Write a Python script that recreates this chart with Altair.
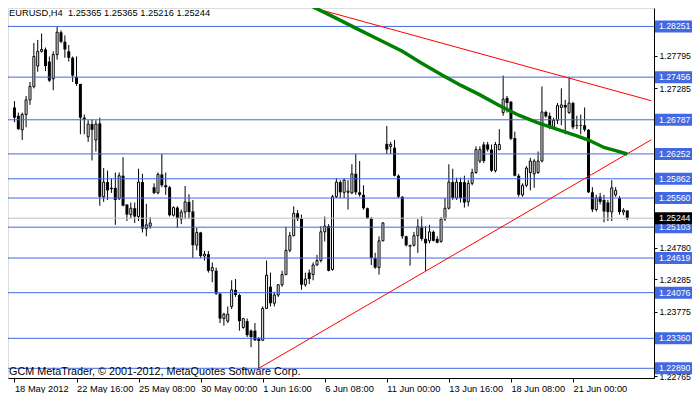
import altair as alt
import pandas as pd

# ---------------- data (EURUSD H4) ----------------
OPEN = [1.2698, 1.2685, 1.2663, 1.2687, 1.2710, 1.2731, 1.2763, 1.2786, 1.2789, 1.2770,
        1.2743, 1.2781, 1.2816, 1.2801, 1.2786, 1.2776, 1.2746, 1.2735, 1.2682, 1.2652,
        1.2672, 1.2647, 1.2673, 1.2558, 1.2581, 1.2572, 1.2572, 1.2555, 1.2591, 1.2546,
        1.2530, 1.2540, 1.2527, 1.2581, 1.2508, 1.2512, 1.2573, 1.2564, 1.2593, 1.2576,
        1.2573, 1.2529, 1.2541, 1.2523, 1.2534, 1.2550, 1.2535, 1.2482, 1.2502, 1.2465,
        1.2468, 1.2442, 1.2442, 1.2406, 1.2367, 1.2363, 1.2386, 1.2412, 1.2404, 1.2353,
        1.2363, 1.2348, 1.2348, 1.2336, 1.2333, 1.2383, 1.2417, 1.2391, 1.2404, 1.2420,
        1.2436, 1.2474, 1.2497, 1.2532, 1.2524, 1.2420, 1.2439, 1.2436, 1.2451, 1.2458,
        1.2503, 1.2512, 1.2444, 1.2558, 1.2581, 1.2565, 1.2565, 1.2564, 1.2594, 1.2565,
        1.2561, 1.2540, 1.2524, 1.2462, 1.2447, 1.2489, 1.2641, 1.2637, 1.2635, 1.2591,
        1.2558, 1.2496, 1.2482, 1.2482, 1.2497, 1.2511, 1.2492, 1.2489, 1.2503, 1.2492,
        1.2488, 1.2523, 1.2540, 1.2581, 1.2556, 1.2581, 1.2581, 1.2550, 1.2579, 1.2596,
        1.2614, 1.2640, 1.2640, 1.2632, 1.2599, 1.2632, 1.2690, 1.2713, 1.2707, 1.2650,
        1.2591, 1.2561, 1.2576, 1.2596, 1.2594, 1.2596, 1.2614, 1.2691, 1.2685, 1.2667,
        1.2678, 1.2698, 1.2702, 1.2690, 1.2705, 1.2670, 1.2670, 1.2670, 1.2663, 1.2565,
        1.2538, 1.2558, 1.2553, 1.2549, 1.2534, 1.2561, 1.2556, 1.2534, 1.25365]
HIGH = [1.2708, 1.2690, 1.2690, 1.2716, 1.2738, 1.2799, 1.2804, 1.2814, 1.2792, 1.2778,
        1.2786, 1.28251, 1.2819, 1.2811, 1.2796, 1.2778, 1.2778, 1.2735, 1.2687, 1.2678,
        1.2679, 1.2678, 1.2682, 1.2603, 1.2599, 1.2587, 1.2596, 1.2596, 1.2620, 1.2546,
        1.2549, 1.2549, 1.2602, 1.2594, 1.2547, 1.2526, 1.2579, 1.2596, 1.2625, 1.2596,
        1.2575, 1.2543, 1.2543, 1.2538, 1.2575, 1.2562, 1.2553, 1.2509, 1.2503, 1.2473,
        1.2473, 1.2455, 1.2447, 1.2407, 1.2376, 1.2386, 1.2427, 1.2429, 1.2406, 1.2368,
        1.2367, 1.2350, 1.2360, 1.2338, 1.2386, 1.2458, 1.2439, 1.2409, 1.2421, 1.2442,
        1.2511, 1.2503, 1.2543, 1.2537, 1.2530, 1.2439, 1.2444, 1.2455, 1.2467, 1.2512,
        1.2527, 1.2515, 1.2561, 1.2587, 1.2584, 1.2587, 1.2584, 1.2609, 1.2625, 1.2614,
        1.2576, 1.2541, 1.2526, 1.2470, 1.2496, 1.2518, 1.2669, 1.2644, 1.2647, 1.2593,
        1.2559, 1.2497, 1.2483, 1.2503, 1.2523, 1.2527, 1.2512, 1.2514, 1.2505, 1.2496,
        1.2526, 1.2556, 1.2609, 1.2602, 1.2588, 1.2588, 1.2591, 1.2584, 1.2602, 1.2637,
        1.2637, 1.2644, 1.2644, 1.2640, 1.2644, 1.2664, 1.2748, 1.2716, 1.2708, 1.2660,
        1.2594, 1.2579, 1.2606, 1.2619, 1.2617, 1.2629, 1.2731, 1.2693, 1.2690, 1.2682,
        1.2705, 1.2728, 1.2710, 1.2745, 1.2707, 1.2685, 1.2687, 1.2698, 1.2664, 1.2573,
        1.2561, 1.2564, 1.2561, 1.2553, 1.2584, 1.2573, 1.2559, 1.2540, 1.25365]
LOW = [1.2675, 1.2663, 1.2647, 1.2667, 1.2702, 1.2728, 1.2754, 1.2784, 1.2755, 1.2738,
       1.2725, 1.2773, 1.2799, 1.2776, 1.2770, 1.2738, 1.2732, 1.2656, 1.2656, 1.2644,
       1.2615, 1.2629, 1.2544, 1.2550, 1.2553, 1.2564, 1.2514, 1.2553, 1.2543, 1.2520,
       1.2524, 1.2517, 1.2520, 1.2502, 1.2496, 1.2508, 1.2562, 1.2562, 1.2573, 1.2561,
       1.2527, 1.2527, 1.2509, 1.2515, 1.2523, 1.2523, 1.2462, 1.2474, 1.2462, 1.2458,
       1.2439, 1.2424, 1.2404, 1.2360, 1.2356, 1.2360, 1.2382, 1.2401, 1.2348, 1.2351,
       1.2338, 1.2322, 1.2332, 1.2289, 1.2332, 1.2382, 1.2386, 1.2386, 1.2401, 1.2417,
       1.2435, 1.2471, 1.2496, 1.2520, 1.2412, 1.2417, 1.2421, 1.2427, 1.2450, 1.2455,
       1.2488, 1.2441, 1.2442, 1.2556, 1.2556, 1.2556, 1.2538, 1.2562, 1.2561, 1.2558,
       1.2538, 1.2523, 1.2451, 1.2445, 1.2436, 1.2488, 1.2625, 1.2625, 1.2590, 1.2556,
       1.2492, 1.2480, 1.2450, 1.2480, 1.2470, 1.2489, 1.2442, 1.2485, 1.2488, 1.2485,
       1.2486, 1.2520, 1.2538, 1.2553, 1.2553, 1.2549, 1.2541, 1.2543, 1.2576, 1.2594,
       1.2611, 1.2611, 1.2629, 1.2597, 1.2596, 1.2631, 1.2685, 1.2690, 1.2647, 1.2590,
       1.2558, 1.2558, 1.2573, 1.2568, 1.2572, 1.2594, 1.2612, 1.2682, 1.2664, 1.2664,
       1.2672, 1.2670, 1.2656, 1.2688, 1.2664, 1.2664, 1.2656, 1.2660, 1.2564, 1.2534,
       1.2535, 1.2546, 1.2518, 1.2520, 1.2520, 1.2558, 1.2530, 1.2529, 1.25216]
CLOSE = [1.2682, 1.2664, 1.2687, 1.2710, 1.2731, 1.2778, 1.2786, 1.2789, 1.2763, 1.2740,
         1.2781, 1.2816, 1.2801, 1.2789, 1.2776, 1.2748, 1.2735, 1.2682, 1.2679, 1.2672,
         1.2663, 1.2672, 1.2558, 1.2581, 1.2568, 1.2570, 1.2553, 1.2591, 1.2544, 1.2530,
         1.2540, 1.2527, 1.2581, 1.2508, 1.2514, 1.2517, 1.2564, 1.2593, 1.2576, 1.2573,
         1.2529, 1.2541, 1.2524, 1.2534, 1.2550, 1.2534, 1.2482, 1.2502, 1.2465, 1.2468,
         1.2442, 1.2447, 1.2406, 1.2367, 1.2374, 1.2374, 1.2412, 1.2404, 1.2363, 1.2367,
         1.2341, 1.2338, 1.2333, 1.2332, 1.2383, 1.2435, 1.2391, 1.2404, 1.2420, 1.2436,
         1.2474, 1.2497, 1.2532, 1.2523, 1.2420, 1.2429, 1.2429, 1.2451, 1.2458, 1.2503,
         1.2512, 1.2442, 1.2558, 1.2581, 1.2565, 1.2584, 1.2567, 1.2594, 1.2565, 1.2561,
         1.2540, 1.2524, 1.2462, 1.2447, 1.2489, 1.2517, 1.2632, 1.2640, 1.2591, 1.2558,
         1.2496, 1.2482, 1.2480, 1.2497, 1.2511, 1.2492, 1.2485, 1.2503, 1.2489, 1.2486,
         1.2523, 1.2540, 1.2581, 1.2556, 1.2581, 1.2556, 1.2549, 1.2579, 1.2596, 1.2632,
         1.2632, 1.2614, 1.2632, 1.2599, 1.2640, 1.2640, 1.2711, 1.2705, 1.2649, 1.2591,
         1.2561, 1.2576, 1.2603, 1.2614, 1.2614, 1.2614, 1.2691, 1.2684, 1.2667, 1.2678,
         1.2701, 1.2702, 1.2698, 1.2705, 1.2667, 1.2669, 1.2669, 1.2663, 1.2565, 1.2538,
         1.2556, 1.2550, 1.2535, 1.2534, 1.2572, 1.2568, 1.2534, 1.2537, 1.25244]

LEVELS = [1.28251, 1.27456, 1.26787, 1.26252, 1.25862, 1.25560,
          1.25103, 1.24619, 1.24076, 1.23360, 1.22890]
BID = 1.25244
PRICE_TICKS = [1.27795, 1.27285, 1.24780, 1.24285, 1.23775, 1.22765]
TIME_TICK_BARS = [0, 16, 32, 48, 64, 80, 96, 112, 128, 144]
TIME_TICK_LABELS = ["18 May 2012", "22 May 16:00", "25 May 08:00", "30 May 00:00",
                    "1 Jun 16:00", "6 Jun 08:00", "11 Jun 00:00", "13 Jun 16:00",
                    "18 Jun 08:00", "21 Jun 00:00"]
MA_BARS = [77, 82, 88, 93, 100, 105, 110, 115, 120, 125, 130, 135, 140, 145, 148, 152, 155, 158]
MA_VALUES = [1.28557, 1.28408, 1.28225, 1.28074, 1.27861, 1.27674, 1.27497, 1.27330,
             1.27178, 1.27011, 1.26859, 1.26737, 1.26637, 1.26535, 1.26470, 1.26353,
             1.26303, 1.26251]
UPPER_TREND_BARS = [70, 164.2]
UPPER_TREND_PRICES = [1.28661, 1.27086]
LOWER_TREND_BARS = [63, 164.2]
LOWER_TREND_PRICES = [1.22890, 1.26474]
SYMBOL = "EURUSD,H4"
COPYRIGHT = "GCM MetaTrader, \u00a9 2001-2012, MetaQuotes Software Corp."

# ---------------- layout / style ----------------
W, H = 646, 370
FONT = "Liberation Sans"
FS = 9.3
LFS = 8.7
BLUE = "#4169E1"
xs = alt.Scale(domain=[-0.375, 163.6], nice=False, zero=False)
ys = alt.Scale(domain=[1.22738, 1.28540], nice=False, zero=False)

df = pd.DataFrame({"bar": list(range(len(OPEN))), "open": OPEN, "high": HIGH,
                   "low": LOW, "close": CLOSE})
lev = pd.DataFrame({"level": LEVELS, "label": [f"{v:.5f}" for v in LEVELS]})
bid = pd.DataFrame({"level": [BID], "label": [f"{BID:.5f}"]})
ma = pd.DataFrame({"bar": MA_BARS, "price": MA_VALUES})
trend = pd.DataFrame({
    "bar": UPPER_TREND_BARS + LOWER_TREND_BARS,
    "price": UPPER_TREND_PRICES + LOWER_TREND_PRICES,
    "line": ["upper"] * 2 + ["lower"] * 2,
})
header = pd.DataFrame({"t": [f"{SYMBOL}\u00a0 {OPEN[-1]:.5f} {HIGH[-1]:.5f} {LOW[-1]:.5f} {CLOSE[-1]:.5f}"]})
copy_df = pd.DataFrame({"t": [COPYRIGHT]})

label_expr = ("[" + ",".join(f"'{s}'" for s in TIME_TICK_LABELS) + "][indexof(["
              + ",".join(str(b) for b in TIME_TICK_BARS) + "], datum.value)]")

x_axis = alt.Axis(values=TIME_TICK_BARS, labelExpr=label_expr, orient="bottom", title=None,
                  grid=False, labelAlign="left", labelBaseline="top", labelPadding=2,
                  labelFont=FONT, labelFontSize=FS, labelColor="black", tickColor="black",
                  tickSize=4, domainColor="black", labelOverlap=False, labelBound=False,
                  labelFlush=False)
y_axis = alt.Axis(values=PRICE_TICKS, format=".5f", orient="right", title=None, grid=False,
                  labelFont=FONT, labelFontSize=LFS, labelColor="black", tickColor="black",
                  tickSize=3, labelPadding=2, domainColor="black", labelOverlap=False,
                  labelFlush=False, labelBound=False)


def X(field):
    return alt.X(field, scale=xs, axis=x_axis)


def Y(field):
    return alt.Y(field, scale=ys, axis=y_axis)


base = alt.Chart(df)
wicks = base.mark_rule(color="black", strokeWidth=1).encode(
    x=X("bar:Q"), y=Y("low:Q"), y2="high:Q")
bear = base.transform_filter("datum.close < datum.open").mark_bar(
    size=3, color="black", orient="vertical"
).encode(x=X("bar:Q"), y=Y("open:Q"), y2="close:Q")
bull = base.transform_filter("datum.close >= datum.open").mark_bar(
    size=2, fill="white", stroke="black", strokeWidth=1, orient="vertical"
).encode(x=X("bar:Q"), y=Y("open:Q"), y2="close:Q")

levels = alt.Chart(lev).mark_rule(color=BLUE, strokeWidth=1).encode(y=Y("level:Q"))
bidline = alt.Chart(bid).mark_rule(color="#C0C0C0", strokeWidth=1).encode(y=Y("level:Q"))

trends = alt.Chart(trend).mark_line(color="#FF0000", strokeWidth=1, clip=True).encode(
    x=X("bar:Q"), y=Y("price:Q"), detail="line:N")
ma_line = alt.Chart(ma).mark_line(color="#008000", strokeWidth=3.5, clip=True).encode(
    x=X("bar:Q"), y=Y("price:Q"))

BOX_L, BOX_R, TXT_X = W + 1, W + 38, W + 5
boxes = alt.Chart(lev).mark_rect(color=BLUE, yOffset=-6, y2Offset=6).encode(
    x=alt.value(BOX_L), x2=alt.value(BOX_R), y=Y("level:Q"), y2="level:Q")
box_text = alt.Chart(lev).mark_text(align="left", baseline="middle", color="white",
                                    font=FONT, fontSize=LFS).encode(
    x=alt.value(TXT_X), y=Y("level:Q"), text="label:N")
bid_box = alt.Chart(bid).mark_rect(color="black", yOffset=-6, y2Offset=6).encode(
    x=alt.value(BOX_L), x2=alt.value(BOX_R), y=Y("level:Q"), y2="level:Q")
bid_text = alt.Chart(bid).mark_text(align="left", baseline="middle", color="white",
                                    font=FONT, fontSize=LFS).encode(
    x=alt.value(TXT_X), y=Y("level:Q"), text="label:N")

hdr = alt.Chart(header).mark_text(align="left", baseline="alphabetic", color="black",
                                  font=FONT, fontSize=FS).encode(
    x=alt.value(1), y=alt.value(8), text="t:N")
cpr = alt.Chart(copy_df).mark_text(align="left", baseline="alphabetic", color="black",
                                   font=FONT, fontSize=10.8).encode(
    x=alt.value(1), y=alt.value(367), text="t:N")

chart = alt.layer(
    wicks, bear, bull, levels, bidline, trends, ma_line,
    boxes, box_text, bid_box, bid_text, hdr, cpr
).properties(
    width=W, height=H,
    autosize=alt.AutoSizeParams(type="none"),
    padding={"left": 0, "top": 0, "right": 38, "bottom": 15},
).configure_view(stroke="black", strokeWidth=1).configure(background="white")

chart.save("out.html", embed_options={"renderer": "svg", "actions": False})
